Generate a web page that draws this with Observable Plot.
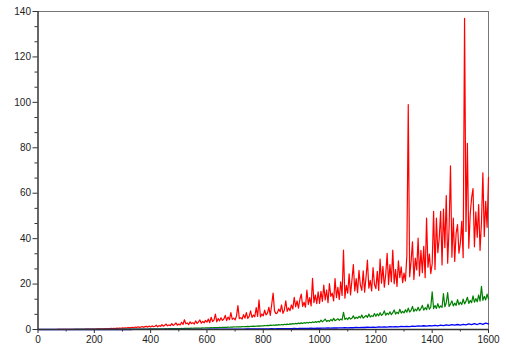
<!DOCTYPE html>
<html>
<head>
<meta charset="utf-8">
<script src="https://cdn.jsdelivr.net/npm/d3@7"></script>
<script src="https://cdn.jsdelivr.net/npm/@observablehq/plot@0.6"></script>
<style>
  html, body { margin: 0; padding: 0; background: #fff; }
  #chart svg { display: block; }
</style>
</head>
<body>
<div id="chart"></div>
<script>
// sample spacing along x for each series
const redStep = 5;
const greenStep = 5;
const blueStep = 10;

// red series, x = 0,5,...,1600 (one row = 100 x-units)
const redValues = [
  0,0,0,0,0,0,0,0,0,0, 0.01,0.01,0.01,0.01,0.02,0.02,0.02,0.02,0.03,0.03,
  0.04,0.04,0.05,0.05,0.06,0.05,0.07,0.08,0.07,0.1, 0.09,0.11,0.12,0.1,0.14,0.13,0.16,0.15,0.19,0.2,
  0.22,0.2,0.26,0.24,0.3,0.27,0.33,0.29,0.38,0.34, 0.42,0.37,0.46,0.4,0.52,0.45,0.58,0.5,0.62,0.55,
  0.68,0.6,0.75,0.65,0.9,0.7,0.85,1.0,0.78,1.1, 0.85,1.2,0.92,1.05,1.3,0.95,1.25,1.4,1.05,1.5,
  1.1,1.6,1.25,1.45,1.9,1.2,1.7,1.4,2.1,1.5, 1.8,2.4,1.6,2.0,1.7,2.6,1.8,2.2,2.9,1.9,
  2.4,2.0,3.2,2.2,4.3,2.5,2.9,2.1,3.4,2.6, 3.0,2.4,3.8,2.7,3.3,4.2,2.8,3.6,2.9,4.0,
  3.2,4.6,3.0,5.4,3.5,4.1,6.8,3.4,4.8,3.8, 5.2,4.0,4.6,6.2,3.9,5.5,4.3,7.4,4.5,5.0,
  4.2,6.0,10.5,4.8,5.2,4.6,6.5,5.0,7.4,4.9, 5.8,8.2,5.3,6.4,5.6,9.6,5.8,13.0,5.5,6.8,
  6.0,8.5,6.4,7.2,9.8,6.2,11.0,16.0,8.2,7.0, 7.3,9.0,7.8,10.8,7.1,8.6,12.6,8.0,9.5,8.3,
  10.8,9.0,14.2,10.0,12.6,9.4,13.2,15.6,10.2,12.0, 9.8,17.4,11.0,14.0,10.4,22.5,11.8,15.2,11.4,16.6,
  11.5,16.8,12.4,19.6,13.0,17.4,11.8,20.2,14.6,16.0, 12.6,22.4,14.0,18.6,13.2,21.0,15.0,35.0,13.8,19.4,
  16.0,24.5,15.2,21.8,28.6,17.0,22.4,16.2,26.0,19.5, 17.2,25.8,16.4,23.0,30.5,18.2,21.6,17.0,27.2,19.8,
  18.0,25.6,17.2,31.0,20.4,27.8,18.6,24.2,33.5,19.8, 28.6,21.0,35.0,20.2,26.4,19.0,30.2,22.8,27.6,20.6,
  24.8,21.4,32.6,99.0,23.2,29.8,38.6,22.0,31.4,26.2, 40.2,23.6,34.8,25.0,36.6,22.8,49.0,27.4,33.2,24.6,
  29.0,52.0,26.4,49.0,33.8,40.2,52.0,28.4,53.0,36.0, 59.0,29.2,44.6,72.0,31.8,49.0,30.0,42.4,46.2,33.6,
  38.0,47.6,31.6,137.0,43.2,82.0,35.8,50.6,58.0,62.0, 36.4,51.8,40.6,55.0,34.8,47.2,69.0,41.0,56.4,45.0,
  67
];

// green series, x = 0,5,...,1600
const greenValues = [
  0,0,0,0,0,0,0,0,0,0, 0,0,0,0,0,0,0.01,0.01,0.01,0.01,
  0.01,0.01,0.01,0.01,0.01,0.01,0.02,0.02,0.02,0.02, 0.02,0.02,0.03,0.03,0.03,0.03,0.03,0.04,0.04,0.04,
  0.04,0.05,0.05,0.05,0.06,0.06,0.06,0.07,0.07,0.08, 0.08,0.08,0.09,0.09,0.1,0.1,0.11,0.11,0.12,0.12,
  0.13,0.12,0.14,0.14,0.15,0.15,0.16,0.16,0.17,0.18, 0.18,0.19,0.19,0.2,0.21,0.2,0.22,0.23,0.22,0.24,
  0.25,0.24,0.27,0.26,0.28,0.3,0.28,0.31,0.3,0.33, 0.32,0.35,0.34,0.36,0.38,0.36,0.4,0.39,0.42,0.41,
  0.44,0.42,0.47,0.45,0.5,0.48,0.52,0.55,0.51,0.58, 0.56,0.6,0.58,0.63,0.61,0.66,0.64,0.69,0.66,0.72,
  0.7,0.76,0.73,0.8,0.76,0.83,0.8,0.87,0.84,0.9, 0.88,0.95,0.91,0.99,0.95,1.03,1.0,1.08,1.04,1.12,
  1.1,1.18,1.13,1.22,1.17,1.27,1.21,1.33,1.26,1.38, 1.3,1.43,1.36,1.48,1.41,1.53,1.46,1.6,1.51,1.66,
  1.6,1.75,1.66,1.82,1.72,1.9,1.78,1.96,1.85,2.05, 1.92,2.12,1.98,2.2,2.06,2.3,2.14,2.38,2.22,2.46,
  2.35,2.58,2.42,2.7,2.5,2.8,2.6,2.9,2.68,3.0, 2.78,3.12,2.86,3.22,2.96,3.34,3.05,3.45,3.15,3.58,
  3.2,4.1,3.4,3.9,4.6,3.5,4.0,3.6,4.4,3.8, 4.9,3.9,4.3,4.8,4.0,4.6,4.2,7.6,4.4,5.0,
  4.4,5.3,4.6,5.0,6.0,4.7,5.4,4.9,5.8,5.1, 6.4,5.0,5.6,6.2,5.3,6.8,5.5,6.1,5.7,7.0,
  5.8,6.9,6.0,7.4,6.2,6.8,8.2,6.3,7.2,6.6, 7.8,6.5,7.4,8.6,6.8,7.6,7.0,8.9,7.2,8.0,
  7.3,8.7,7.6,9.4,7.7,8.4,10.2,7.9,9.0,8.2, 9.8,8.3,9.2,10.6,8.5,9.6,8.7,11.2,8.9,9.9,
  16.6,9.2,10.6,9.3,11.4,9.5,10.4,9.7,15.8,10.0, 11.8,16.2,10.2,11.2,12.6,10.4,11.6,10.6,13.2,10.9,
  12.0,11.0,13.4,11.3,12.4,14.2,11.5,12.8,11.8,14.8, 12.0,13.6,12.2,15.2,12.5,19.0,12.8,14.6,13.0,15.6,
  13.4
];

// blue series, x = 0,10,...,1600
const blueValues = [
  0,0,0,0,0,0,0,0,0,0, 0,0,0,0,0,0,0,0,0,0,
  0,0,0,0,0,0,0.005,0.005,0.006,0.007, 0.008,0.009,0.01,0.011,0.012,0.013,0.015,0.016,0.018,0.02,
  0.022,0.024,0.026,0.028,0.03,0.033,0.036,0.04,0.043,0.047, 0.05,0.054,0.058,0.062,0.066,0.07,0.075,0.08,0.085,0.09,
  0.095,0.1,0.11,0.115,0.12,0.13,0.135,0.14,0.15,0.16, 0.17,0.18,0.19,0.2,0.21,0.22,0.23,0.24,0.25,0.27,
  0.28,0.3,0.29,0.33,0.31,0.35,0.34,0.38,0.36,0.41, 0.39,0.44,0.42,0.47,0.45,0.5,0.48,0.54,0.51,0.58,
  0.55,0.62,0.58,0.66,0.62,0.7,0.66,0.75,0.7,0.8, 0.74,0.85,0.78,0.9,0.83,0.95,0.88,1.0,0.92,1.06,
  0.98,1.12,1.03,1.18,1.08,1.24,1.14,1.3,1.2,1.36, 1.25,1.42,1.31,1.5,1.38,1.57,1.45,1.65,1.5,1.72,
  1.58,1.8,1.64,1.9,1.72,2.0,1.8,2.1,1.88,2.2, 1.96,2.3,2.05,2.45,2.12,2.55,2.2,2.65,2.3,2.8,
  2.5
];

const xTicks = [0, 200, 400, 600, 800, 1000, 1200, 1400, 1600];
const xMinorTicks = [100, 300, 500, 700, 900, 1100, 1300, 1500];
const yTicks = [0, 20, 40, 60, 80, 100, 120, 140];
const yMinorTicks = yTicks.slice(0, -1).flatMap(v => [v + 20 / 3, v + 40 / 3]);

const toRows = (vals, step) => vals.map((v, i) => ({x: i * step, y: v}));
const red = toRows(redValues, redStep);
const green = toRows(greenValues, greenStep);
const blue = toRows(blueValues, blueStep);

const axisColor = "#333";
const font = "'Liberation Sans', Arial, Helvetica, sans-serif";

const chart = Plot.plot({
  width: 506,
  height: 347,
  marginLeft: 37.5,
  marginRight: 18,
  marginTop: 11,
  marginBottom: 18,
  style: {fontFamily: font, fontSize: "10px", color: "#222", background: "#fff"},
  x: {domain: [0, 1600], label: null},
  y: {domain: [0, 140], label: null},
  marks: [
    Plot.ruleY([140], {stroke: "#777", strokeWidth: 1}),
    Plot.ruleX([1600], {stroke: "#777", strokeWidth: 1}),
    Plot.lineY(red, {x: "x", y: "y", stroke: "#ff0000", strokeWidth: 1.2}),
    Plot.lineY(green, {x: "x", y: "y", stroke: "#008000", strokeWidth: 1.2}),
    Plot.lineY(blue, {x: "x", y: "y", stroke: "#0000ff", strokeWidth: 1.3}),
    Plot.ruleX([0], {stroke: axisColor, strokeWidth: 1.5}),
    Plot.ruleY([0], {stroke: axisColor, strokeWidth: 1.5}),
    Plot.axisX({ticks: xTicks, tickSize: 4, tickPadding: 2, stroke: axisColor, fontSize: 10, fill: "#222", label: null, tickFormat: d => String(d)}),
    Plot.axisX({ticks: xMinorTicks, tickSize: 2.5, stroke: axisColor, text: null, label: null}),
    Plot.axisY({ticks: yTicks, tickSize: 5, tickPadding: 2, stroke: axisColor, fontSize: 10, fill: "#222", label: null, tickFormat: d => String(d)}),
    Plot.axisY({ticks: yMinorTicks, tickSize: 3, stroke: axisColor, text: null, label: null})
  ]
});
document.getElementById("chart").appendChild(chart);
</script>
</body>
</html>
